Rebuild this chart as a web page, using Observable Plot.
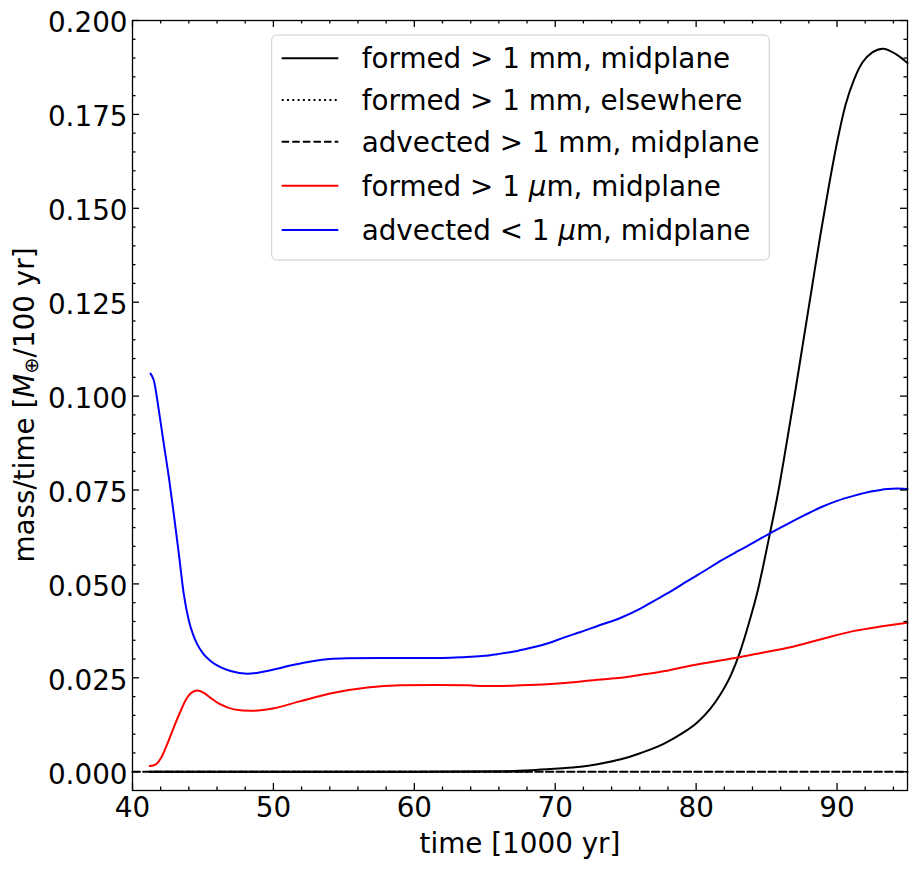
<!DOCTYPE html>
<html><head><meta charset="utf-8">
<script src="https://cdn.jsdelivr.net/npm/d3@7"></script>
<script src="https://cdn.jsdelivr.net/npm/@observablehq/plot@0.6"></script>
<style>body{margin:0;background:#fff}#chart{width:917px;height:871px}</style>
</head><body><div id="chart"></div>
<script>
// formed > 1 mm, midplane
const formedMmT = [41.25,50,60,66,68.3,70,71.8,73,74.66,76.08,77.73,79,80.1,81,81.76,82.5,83.06,83.7,84.37,85.19,85.8,86.4,87.0,87.6,88.2,88.8,89.4,90.0,90.6,91.2,91.8,92.5,93.25,94.2,95];
const formedMmV = [0,0,0,0.0001,0.0004,0.0008,0.0013,0.0020,0.0033,0.0050,0.0075,0.0102,0.0132,0.0167,0.0208,0.0260,0.0313,0.0390,0.0482,0.0626,0.0740,0.0870,0.1005,0.1145,0.1285,0.1425,0.1555,0.1675,0.1775,0.1842,0.1888,0.1915,0.1925,0.1910,0.1887];
// formed > 1 mm, elsewhere (zero, hidden under the midplane line)
const elseMmT = [41.25,68];
const elseMmV = [0,0];
// advected > 1 mm, midplane
const advMmT = [40,95];
const advMmV = [0,0];
// formed > 1 um, midplane
const formedUmT = [41.23,41.63,42.0,42.46,43.0,43.41,43.8,44.12,44.6,45.06,45.6,46.25,47.2,48.38,50.04,51.93,54.3,56.67,59.03,61.5,63.77,65.2,67.5,69.45,71.5,73.0,74.66,76.08,77.8,79.4,81.2,82.94,84.7,86.5,88.8,91.23,93.2,95];
const formedUmV = [0.0015,0.0019,0.0035,0.0073,0.0125,0.0161,0.0192,0.0208,0.0216,0.0210,0.0195,0.0179,0.0166,0.0162,0.0169,0.0188,0.0210,0.0224,0.0230,0.0231,0.0230,0.0228,0.0230,0.0233,0.0239,0.0245,0.0250,0.0258,0.0268,0.0281,0.0293,0.0304,0.0317,0.0330,0.0352,0.0375,0.0387,0.0397];
// advected < 1 um, midplane
const advUmT = [41.28,41.51,41.87,42.22,42.58,42.93,43.29,43.64,44.0,44.3,44.6,45.0,45.54,46.2,46.96,48.15,49.0,49.8,50.5,51.2,52.0,52.88,54.0,55.25,57.5,60,62,63.5,64.8,65.9,67.1,68.27,69.5,70.6,71.8,73.0,74.66,76.08,77.02,78.2,79.4,80.6,81.76,82.95,84.13,85.3,86.5,87.7,88.86,90.0,91.23,92.4,93.6,94.3,95];
const advUmV = [0.1060,0.1042,0.0962,0.0873,0.0784,0.0686,0.0580,0.0473,0.0402,0.0365,0.0339,0.0315,0.0295,0.0279,0.0268,0.0261,0.0264,0.0270,0.0276,0.0283,0.0289,0.0295,0.0300,0.0302,0.0303,0.0303,0.0303,0.0305,0.0308,0.0313,0.0320,0.0330,0.0342,0.0357,0.0372,0.0388,0.0410,0.0435,0.0455,0.0480,0.0508,0.0535,0.0562,0.0587,0.0611,0.0636,0.0660,0.0683,0.0704,0.0721,0.0735,0.0746,0.0753,0.0754,0.0753];

const xMajor = [40,50,60,70,80,90];
const xMinor = [42,44,46,48,52,54,56,58,62,64,66,68,72,74,76,78,82,84,86,88,92,94];
const yMajor = [0,0.025,0.05,0.075,0.1,0.125,0.15,0.175,0.2];
const yMinor = d3.range(5,200,5).filter(d => d % 25 !== 0).map(d => d/1000);

const legendItems = [
  {label: ["formed > 1 mm, midplane"], stroke: "black", dash: null},
  {label: ["formed > 1 mm, elsewhere"], stroke: "black", dash: "2,3.3"},
  {label: ["advected > 1 mm, midplane"], stroke: "black", dash: "7.4,3.2"},
  {label: ["formed > 1 ", "μ", "m, midplane"], stroke: "#ff0000", dash: null},
  {label: ["advected < 1 ", "μ", "m, midplane"], stroke: "#0000ff", dash: null}
];

const W = 917, H = 871, mL = 132, mR = 10, mT = 20, mB = 81;
const pw = W - mL - mR, ph = H - mT - mB;
const FS = 27.8;
const rows = (t, v) => t.map((d, i) => ({t: d, v: v[i]}));

const tickStyle = {stroke: "black", strokeWidth: 1.3};
const chart = Plot.plot({
  width: W, height: H,
  marginLeft: mL, marginRight: mR, marginTop: mT, marginBottom: mB,
  style: {fontFamily: "DejaVu Sans", fontSize: FS + "px", color: "black", background: "white"},
  x: {domain: [40, 95]},
  y: {domain: [-0.005, 0.2]},
  marks: [
    Plot.line(rows(elseMmT, elseMmV), {x: "t", y: "v", stroke: "black", strokeWidth: 2, strokeDasharray: "2,3.3"}),
    Plot.line(rows(formedMmT, formedMmV), {x: "t", y: "v", stroke: "black", strokeWidth: 2, curve: "monotone-x"}),
    Plot.line(rows(advMmT, advMmV), {x: "t", y: "v", stroke: "black", strokeWidth: 2, strokeDasharray: "7.4,3.2"}),
    Plot.line(rows(formedUmT, formedUmV), {x: "t", y: "v", stroke: "#ff0000", strokeWidth: 2, curve: "monotone-x"}),
    Plot.line(rows(advUmT, advUmV), {x: "t", y: "v", stroke: "#0000ff", strokeWidth: 2, curve: "monotone-x"}),
    Plot.axisX({ticks: xMajor, tickSize: 0, tickPadding: 7, tickFormat: d => String(d), label: null}),
    Plot.axisY({ticks: yMajor, tickSize: 0, tickPadding: 5, dy: 3, tickFormat: d3.format(".3f"), label: null}),
    Plot.tickX(xMajor, {x: d => d, insetTop: ph - 7, ...tickStyle}),
    Plot.tickX(xMajor, {x: d => d, insetBottom: ph - 7, ...tickStyle}),
    Plot.tickX(xMinor, {x: d => d, insetTop: ph - 3.5, ...tickStyle}),
    Plot.tickX(xMinor, {x: d => d, insetBottom: ph - 3.5, ...tickStyle}),
    Plot.tickY(yMajor, {y: d => d, insetRight: pw - 7, ...tickStyle}),
    Plot.tickY(yMajor, {y: d => d, insetLeft: pw - 7, ...tickStyle}),
    Plot.tickY(yMinor, {y: d => d, insetRight: pw - 3.5, ...tickStyle}),
    Plot.tickY(yMinor, {y: d => d, insetLeft: pw - 3.5, ...tickStyle}),
    Plot.frame({stroke: "black", strokeWidth: 1.3})
  ]
});

const svg = d3.select(chart);
// axis labels
svg.append("text").attr("x", 520).attr("y", 853).attr("text-anchor", "middle")
  .attr("font-size", FS).attr("fill", "black").text("time [1000 yr]");
const yl = svg.append("text").attr("transform", "translate(33.5,405) rotate(-90)")
  .attr("text-anchor", "middle").attr("font-size", FS).attr("fill", "black");
yl.append("tspan").text("mass/time [");
yl.append("tspan").attr("font-style", "italic").text("M");
yl.append("tspan").attr("font-size", FS * 0.7).attr("dy", 4).text("⊕");
yl.append("tspan").attr("dy", -4).text("/100 yr]");

// legend
const lg = svg.append("g").attr("text-anchor", "start");
lg.append("rect").attr("x", 271.7).attr("y", 35).attr("width", 497.6).attr("height", 225)
  .attr("rx", 5).attr("fill", "white").attr("fill-opacity", 0.8).attr("stroke", "#cccccc").attr("stroke-width", 1);
const rowY = [58.3, 100, 141.7, 185.7, 230];
legendItems.forEach((it, i) => {
  lg.append("line").attr("x1", 281.7).attr("x2", 338.3).attr("y1", rowY[i]).attr("y2", rowY[i])
    .attr("stroke", it.stroke).attr("stroke-width", 2).attr("stroke-dasharray", it.dash);
  const t = lg.append("text").attr("x", 361.7).attr("y", rowY[i] + 9.8).attr("text-anchor", "start")
    .attr("font-size", FS).attr("fill", "black");
  it.label.forEach((s, j) => {
    const sp = t.append("tspan").text(s);
    if (j === 1) sp.attr("font-style", "italic");
  });
});

document.getElementById("chart").appendChild(chart);
</script>
</body></html>
